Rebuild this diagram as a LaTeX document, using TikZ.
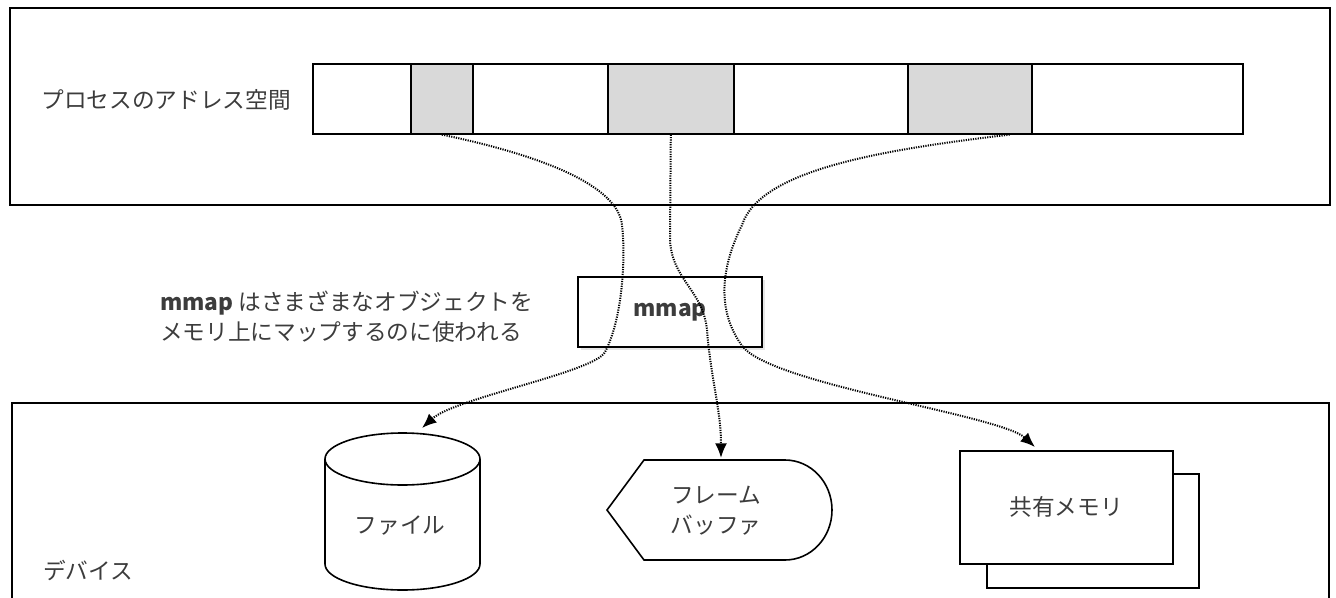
\documentclass[tikz,border=0pt]{standalone}
\usepackage{fontspec}
\setmainfont{Noto Sans CJK JP}
\usetikzlibrary{arrows.meta,shadows,calc}
\definecolor{txt}{RGB}{60,60,60}
\definecolor{cellgray}{RGB}{217,217,217}
\tikzset{
  bigbox/.style={draw=black, line width=1.4pt},
  cell/.style={draw=black, line width=1.2pt, anchor=north west, inner sep=0pt, minimum height=52.5pt, fill=white},
  used/.style={cell, fill=cellgray},
  outline/.style={draw=black, line width=1.2pt},
  link/.style={line width=1.5pt, dash pattern=on 0.9pt off 0.9pt, -{Latex[length=11pt,width=9pt]}},
  lbl/.style={text=txt, font=\fontsize{17}{22.5}\selectfont, inner sep=0pt},
}
\begin{document}
\begin{tikzpicture}[x=0.75pt,y=-0.75pt]
\useasboundingbox (0,0) rectangle (1336,597);
\clip (0,0) rectangle (1336,597);
% process address space
\draw[bigbox] (10,8) rectangle (1330,205);
\node[lbl] (aslabel) at (166,100) {プロセスのアドレス空間};
\node[cell, minimum width=73.5pt] (c1) at (312,63) {};
\node[used, minimum width=46.5pt] (c2) at (410,63) {};
\node[cell, minimum width=101.25pt] (c3) at (472,63) {};
\node[used, minimum width=94.5pt] (c4) at (607,63) {};
\node[cell, minimum width=130.5pt] (c5) at (733,63) {};
\node[used, minimum width=93pt] (c6) at (907,63) {};
\node[cell, minimum width=158.25pt] (c7) at (1031,63) {};
% devices
\draw[bigbox] (12,403) rectangle (1329,620);
\node[lbl] (dev) at (88,570) {デバイス};
% file cylinder
\draw[outline] (402.5,459) ellipse [x radius=77.5, y radius=26];
\draw[outline] (325,459) -- (325,564) arc[start angle=180, end angle=0, x radius=77.5, y radius=26] -- (480,459);
\node[lbl] (file) at (400,526) {ファイル};
% frame buffer
\draw[outline] (644,460) -- (785,460) arc[start angle=-90, end angle=90, x radius=47, y radius=50] -- (644,560) -- (607,510) -- cycle;
\node[lbl, align=center] (fb) at (716,511) {フレーム\\バッファ};
% shared memory
\draw[outline, fill=white] (987,474) rectangle (1199,588);
\node[outline, lbl, fill=white, anchor=north west, minimum width=159.75pt, minimum height=84.75pt] (shm) at (959,450) {共有メモリ};
% mmap
\node[outline, lbl, fill=white, drop shadow={opacity=0.2, shadow xshift=2.5pt, shadow yshift=-2.5pt}, minimum width=138pt, minimum height=52.5pt] (mm) at (670,312) {\bfseries mmap};
\node[lbl, anchor=west, align=left] (cap) at (160,317) {\textbf{mmap} はさまざまなオブジェクトを\\メモリ上にマップするのに使われる};
% targets
\coordinate (filetop) at (422,428);
\coordinate (fbtop) at (721,458);
\coordinate (shmtop) at (1035,447);
% connectors
\draw[link] (c2.south) .. controls (540,155) and (618,185) .. (622,225) .. controls (626,260) and (622,320) .. (605,352) .. controls (595,372) and (455,398) .. (filetop);
\draw[link] (c4.south) -- (670,240) .. controls (672,280) and (703,290) .. (707,330) .. controls (711,380) and (721,410) .. (fbtop);
\draw[link] ($(c6.south)+(40,0)$) .. controls (880,150) and (760,170) .. (742,225) .. controls (722,265) and (715,310) .. (743,347) .. controls (775,385) and (1000,415) .. (shmtop);
\end{tikzpicture}
\end{document}
